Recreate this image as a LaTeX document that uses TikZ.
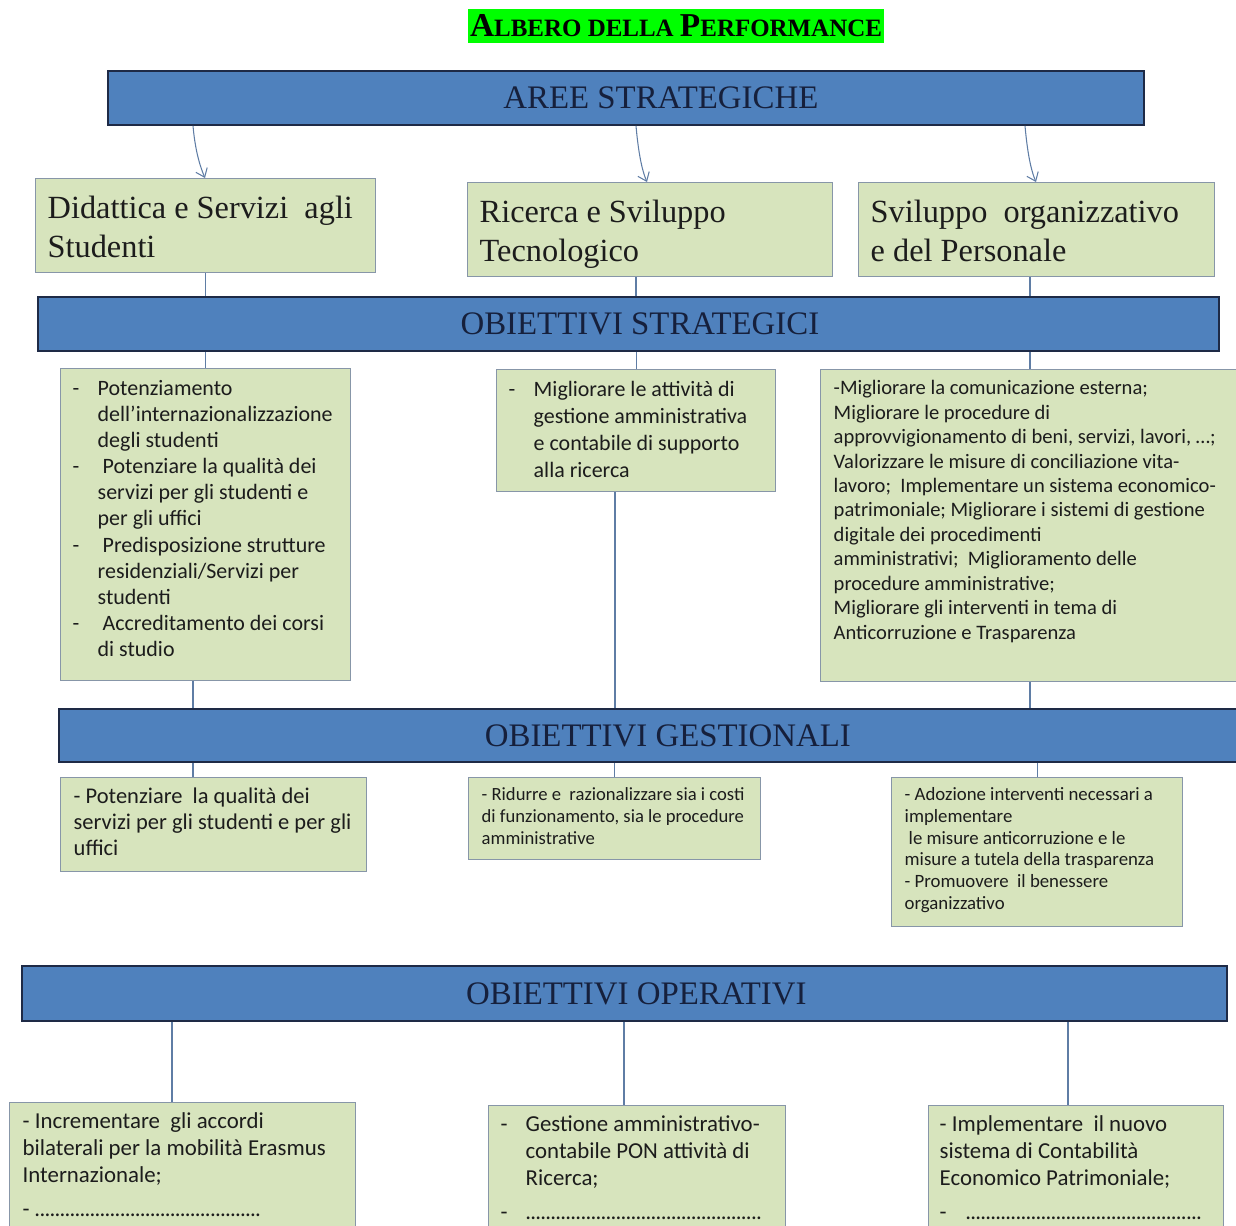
\documentclass[tikz,border=0pt]{standalone}
\usepackage{fontspec}
\setmainfont{Carlito}
\newfontfamily\headfont{Liberation Serif}
\usetikzlibrary{arrows.meta}
\definecolor{barfill}{RGB}{79,129,189}
\definecolor{barline}{RGB}{30,42,70}
\definecolor{bartext}{RGB}{22,32,60}
\definecolor{boxfill}{RGB}{215,228,189}
\definecolor{boxline}{RGB}{135,150,168}
\definecolor{boxtext}{RGB}{28,28,28}
\definecolor{linkcol}{RGB}{95,125,165}
\definecolor{titlegreen}{RGB}{0,255,0}
\newlength\unitpx
\setlength\unitpx{0.02cm}
\newcommand{\boxbody}[5]{\parbox[t][#2\unitpx][t]{#1\unitpx}{\raggedright\leftskip=#3\unitpx\relax\vspace*{#4\unitpx}\strut#5}}
\newcommand{\hangdash}{\leavevmode\llap{\makebox[25\unitpx][l]{-}}}
\newcommand{\dotrow}[1]{\hbox to #1\unitpx{\leaders\hbox to 0.22em{\hss.\hss}\hfill}}
\begin{document}
\begin{tikzpicture}[x=0.02cm, y=-0.02cm,
    bar/.style={draw=barline, fill=barfill, line width=1.1pt, anchor=north west, inner sep=0pt, text=bartext, font=\headfont\fontsize{18.7}{22}\selectfont},
    areabox/.style={draw=boxline, fill=boxfill, line width=0.8pt, anchor=north west, inner sep=0pt, text=boxtext},
    link/.style={draw=linkcol, line width=0.6pt},
    pointer/.style={link, -{Straight Barb[length=4.5pt, width=7pt]}}]
    \useasboundingbox (0,0) rectangle (1236,1225);
    \clip (0,0) rectangle (1236,1225);

    \node[fill=titlegreen, minimum width=8.32cm, minimum height=0.68cm, inner sep=0pt, font=\headfont\bfseries] (title) at (676,26) {\fontsize{19}{20}\selectfont A\fontsize{14.2}{20}\selectfont LBERO DELLA \fontsize{19}{20}\selectfont P\fontsize{14.2}{20}\selectfont ERFORMANCE};

    \node[bar, minimum width=20.72cm, minimum height=1.08cm] (bar1) at (107,70) {\hspace*{70\unitpx}AREE STRATEGICHE};
    \node[bar, minimum width=23.62cm, minimum height=1.08cm] (bar2) at (37,296) {\hspace*{23\unitpx}OBIETTIVI STRATEGICI};
    \node[bar, minimum width=23.8cm, minimum height=1.06cm] (bar3) at (58,708) {\hspace*{28\unitpx}OBIETTIVI GESTIONALI};
    \node[bar, minimum width=24.1cm, minimum height=1.1cm] (bar4) at (21,965) {\hspace*{24\unitpx}OBIETTIVI OPERATIVI};

    \node[areabox, font=\headfont\fontsize{18.4}{22}\selectfont] (A1) at (35,178) {\boxbody{340}{94}{12}{13}{Didattica e Servizi\ \ agli\\Studenti}};
    \node[areabox, font=\headfont\fontsize{18.4}{22}\selectfont] (A2) at (467,182) {\boxbody{365}{94}{12}{13}{Ricerca e Sviluppo\\Tecnologico}};
    \node[areabox, font=\headfont\fontsize{18.4}{22}\selectfont] (A3) at (858,182) {\boxbody{356}{94}{12}{13}{Sviluppo\ \ organizzativo\\e del Personale}};

    \node[areabox, font=\fontsize{12.5}{14.9}\selectfont] (S1) at (60,368) {\boxbody{290}{312}{37}{8}{\hangdash Potenziamento\\dell'internazionalizzazione\\degli studenti\\\hangdash\hspace{5\unitpx}Potenziare la qualità dei\\servizi per gli studenti e\\per gli uffici\\\hangdash\hspace{5\unitpx}Predisposizione strutture\\residenziali/Servizi per\\studenti\\\hangdash\hspace{5\unitpx}Accreditamento dei corsi\\di studio}};
    \node[areabox, font=\fontsize{12.5}{15.3}\selectfont] (S2) at (496,369) {\boxbody{279}{122}{37}{8}{\hangdash Migliorare le attività di\\gestione amministrativa\\e contabile di supporto\\alla ricerca}};
    \node[areabox, font=\fontsize{11.7}{13.9}\selectfont] (S3) at (820,369) {\boxbody{430}{312}{13}{8}{-Migliorare la comunicazione esterna;\\Migliorare le procedure di\\approvvigionamento di beni, servizi, lavori, …;\\Valorizzare le misure di conciliazione vita-\\lavoro;\ \ Implementare un sistema economico-\\patrimoniale; Migliorare i sistemi di gestione\\digitale dei procedimenti\\amministrativi;\ \ Miglioramento delle\\procedure amministrative;\\Migliorare gli interventi in tema di\\Anticorruzione e Trasparenza}};

    \node[areabox, font=\fontsize{12.8}{14.7}\selectfont] (G1) at (60,777) {\boxbody{306}{94}{13}{8}{- Potenziare\ \ la qualità dei\\servizi per gli studenti e per gli\\uffici}};
    \node[areabox, font=\fontsize{10.6}{12.5}\selectfont] (G2) at (468,777) {\boxbody{292}{82}{13}{7}{- Ridurre e\ \ razionalizzare sia i costi\\di funzionamento, sia le procedure\\amministrative}};
    \node[areabox, font=\fontsize{10.7}{12.5}\selectfont] (G3) at (891,777) {\boxbody{291}{149}{13}{7}{- Adozione interventi necessari a\\implementare\\\hspace*{4\unitpx}le misure anticorruzione e le\\misure a tutela della trasparenza\\- Promuovere\ \ il benessere\\organizzativo}};

    \node[areabox, font=\fontsize{13}{15.3}\selectfont] (O1) at (9,1102) {\boxbody{346}{200}{13}{7}{- Incrementare\ \ gli accordi\\bilaterali per la mobilità Erasmus\\Internazionale;\\[7\unitpx]- \dotrow{231}}};
    \node[areabox, font=\fontsize{13}{15.3}\selectfont] (O2) at (488,1105) {\boxbody{297}{200}{37}{7}{\hangdash Gestione amministrativo-\\contabile PON attività di\\Ricerca;\\[7\unitpx]\hangdash\dotrow{239}}};
    \node[areabox, font=\fontsize{13}{15.3}\selectfont] (O3) at (928,1105) {\boxbody{295}{200}{11}{7}{- Implementare\ \ il nuovo\\sistema di Contabilità\\Economico Patrimoniale;\\[7\unitpx]-\hspace{19\unitpx}\dotrow{239}}};

    \draw[pointer] (193,0 |- bar1.south) .. controls +(2,22) and +(-6,-14) .. (205,0 |- A1.north);
    \draw[pointer] (636,0 |- bar1.south) .. controls +(2,22) and +(-6,-14) .. (647,0 |- A2.north);
    \draw[pointer] (1025,0 |- bar1.south) .. controls +(2,22) and +(-6,-14) .. (1036,0 |- A3.north);

    \draw[link] (A1.south) -- (A1.south |- bar2.north);
    \draw[link] (636,0 |- A2.south) -- (636,0 |- bar2.north);
    \draw[link] (1030,0 |- A3.south) -- (1030,0 |- bar2.north);
    \draw[link] (S1.north |- bar2.south) -- (S1.north);
    \draw[link] (S2.north |- bar2.south) -- (S2.north);
    \draw[link] (1030,0 |- bar2.south) -- (1030,0 |- S3.north);

    \draw[link] (193,0 |- S1.south) -- (193,0 |- bar3.north);
    \draw[link] (615,0 |- S2.south) -- (615,0 |- bar3.north);
    \draw[link] (1030,0 |- S3.south) -- (1030,0 |- bar3.north);
    \draw[link] (193,0 |- bar3.south) -- (193,0 |- G1.north);
    \draw[link] (G2.north |- bar3.south) -- (G2.north);
    \draw[link] (G3.north |- bar3.south) -- (G3.north);

    \draw[link] (172,0 |- bar4.south) -- (172,0 |- O1.north);
    \draw[link] (624,0 |- bar4.south) -- (624,0 |- O2.north);
    \draw[link] (1068,0 |- bar4.south) -- (1068,0 |- O3.north);
\end{tikzpicture}
\end{document}
